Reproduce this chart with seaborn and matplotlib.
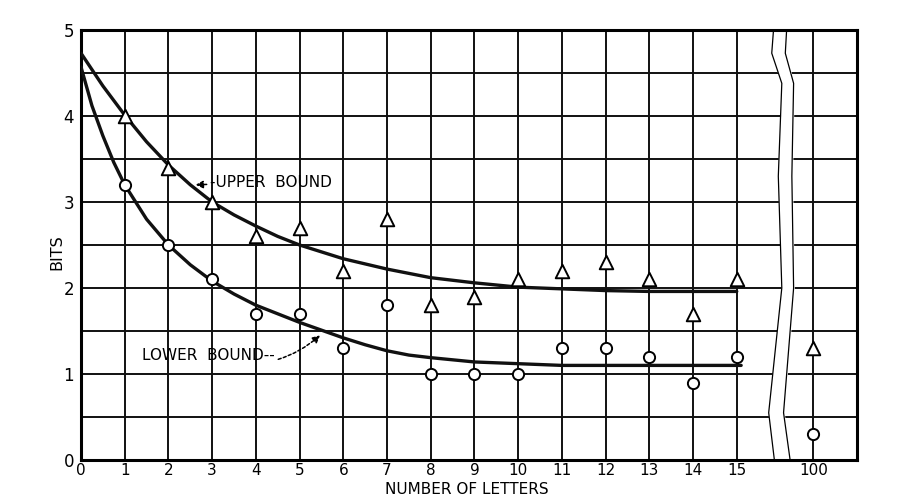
import matplotlib
matplotlib.use("Agg")
import matplotlib.pyplot as plt
import seaborn as sns
import numpy as np
import pandas as pd

# ---- data ----
x_labels = ["0", "1", "2", "3", "4", "5", "6", "7", "8", "9", "10",
            "11", "12", "13", "14", "15", "100"]
x_pos = [0, 1, 2, 3, 4, 5, 6, 7, 8, 9, 10, 11, 12, 13, 14, 15, 16.75]

n_letters = [1, 2, 3, 4, 5, 6, 7, 8, 9, 10, 11, 12, 13, 14, 15, 16.75]
upper_pts = [4.0, 3.4, 3.0, 2.6, 2.7, 2.2, 2.8, 1.8, 1.9, 2.1, 2.2, 2.3, 2.1, 1.7, 2.1, 1.3]
lower_pts = [3.2, 2.5, 2.1, 1.7, 1.7, 1.3, 1.8, 1.0, 1.0, 1.0, 1.3, 1.3, 1.2, 0.9, 1.2, 0.3]

upper_curve_x = [0, 0.5, 1, 1.5, 2, 2.5, 3, 3.5, 4, 4.5, 5, 5.5, 6, 6.5, 7, 7.5, 8,
                 9, 10, 11, 12, 13, 14, 15]
upper_curve_y = [4.73, 4.35, 4.01, 3.70, 3.43, 3.20, 3.00, 2.85, 2.72, 2.60, 2.50,
                 2.42, 2.34, 2.28, 2.22, 2.17, 2.12, 2.06, 2.01, 1.99, 1.97, 1.96,
                 1.96, 1.96]
lower_curve_x = [0, 0.25, 0.5, 0.75, 1, 1.5, 2, 2.5, 3, 3.5, 4, 4.5, 5, 5.5, 6,
                 6.5, 7, 7.5, 8, 9, 10, 11, 12, 13, 14, 15.1]
lower_curve_y = [4.57, 4.12, 3.77, 3.46, 3.20, 2.80, 2.50, 2.27, 2.08, 1.93, 1.80,
                 1.70, 1.60, 1.51, 1.42, 1.34, 1.27, 1.22, 1.19, 1.14, 1.12, 1.10,
                 1.10, 1.10, 1.10, 1.10]

y_ticks = [0, 1, 2, 3, 4, 5]

# break symbol (axis decoration)
brk_y = [5, 4.73, 4.38, 3.3, 2.0, 0.55, 0]
brk_left = [15.84, 15.80, 16.03, 15.95, 16.03, 15.73, 15.86]
brk_right = [16.14, 16.11, 16.30, 16.26, 16.30, 16.07, 16.22]

sns.set_style("white")
plt.rcParams['font.family'] = ['DejaVu Sans']
plt.rcParams['text.color'] = 'black'
plt.rcParams['axes.labelcolor'] = 'black'
plt.rcParams['xtick.color'] = 'black'
plt.rcParams['ytick.color'] = 'black'

fig = plt.figure(figsize=(9.18, 4.96), dpi=100)
ax = fig.add_axes([81/918, 36/496, (857-81)/918, (460-30)/496])

# grid
for xv in x_pos:
    ax.axvline(xv, color="#111111", lw=1.4, zorder=1)
for yv in np.arange(0.5, 5.0, 0.5):
    ax.axhline(yv, color="#111111", lw=1.4, zorder=1)

# break symbol
ax.fill_betweenx(brk_y, brk_left, brk_right, color="white", zorder=1.5)
ax.plot(brk_left, brk_y, color="black", lw=0.9, zorder=2)
ax.plot(brk_right, brk_y, color="black", lw=0.9, zorder=2)

# curves
sns.lineplot(x=upper_curve_x, y=upper_curve_y, ax=ax, color="#111111", lw=2.4,
             sort=False, estimator=None, zorder=3)
sns.lineplot(x=lower_curve_x, y=lower_curve_y, ax=ax, color="#111111", lw=2.4,
             sort=False, estimator=None, zorder=3)

# points
df = pd.DataFrame({"n": n_letters, "upper": upper_pts, "lower": lower_pts})
sns.scatterplot(data=df, x="n", y="upper", ax=ax, marker="^", s=95,
                facecolor="white", edgecolor="black", linewidth=1.4, zorder=4)
sns.scatterplot(data=df, x="n", y="lower", ax=ax, marker="o", s=65,
                facecolor="white", edgecolor="black", linewidth=1.4, zorder=4)

# annotations
ax.annotate("-UPPER  BOUND", xy=(2.62, 3.2), xytext=(2.95, 3.23),
            fontsize=11, va="center", ha="left", color="black",
            arrowprops=dict(arrowstyle="-|>", color="black", lw=1.1,
                            linestyle=(0, (2, 1.5)), shrinkA=0, shrinkB=0,
                            mutation_scale=11), zorder=5)
ax.annotate("LOWER  BOUND--", xy=(5.47, 1.45), xytext=(1.4, 1.22),
            fontsize=11, va="center", ha="left", color="black",
            arrowprops=dict(arrowstyle="-|>", color="black", lw=1.1,
                            linestyle=(0, (2, 1.5)), shrinkA=0, shrinkB=0,
                            connectionstyle="arc3,rad=0.3",
                            mutation_scale=11), zorder=5)

ax.set_xlim(0, 17.75)
ax.set_ylim(0, 5)
ax.set_xticks(x_pos)
ax.set_xticklabels(x_labels, fontsize=11)
ax.set_yticks(y_ticks)
ax.set_yticklabels([str(v) for v in y_ticks], fontsize=12)
ax.tick_params(axis="x", length=0, pad=2)
ax.tick_params(axis="y", length=0, pad=5)
ax.set_xlabel("NUMBER OF LETTERS", fontsize=11)
ax.xaxis.set_label_coords(0.497, -0.069)
ax.xaxis.label.set_va("center")
ax.set_ylabel("BITS", fontsize=11.5)
ax.yaxis.set_label_coords(-0.031, 0.484)
ax.yaxis.label.set_va("center")
for s in ax.spines.values():
    s.set_visible(True)
    s.set_color("black")
    s.set_linewidth(2.2)
ax.set_zorder(1)

fig.savefig("out.png", dpi=100, facecolor="white")
